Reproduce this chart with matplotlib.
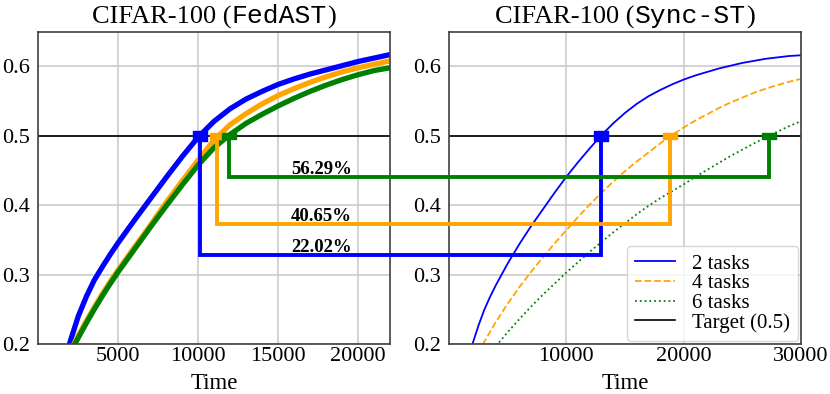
import matplotlib
matplotlib.use("Agg")
import matplotlib.pyplot as plt
from matplotlib.lines import Line2D

plt.rcParams['font.family'] = ['Liberation Serif', 'DejaVu Serif']

# ---------------- data ----------------
# FedAST (left panel)
fed_t2 = [1500, 2000, 2500, 3000, 3500, 4000, 4500, 5000, 6000, 7000, 8000, 9000, 10000,
          11000, 12000, 13000, 14000, 15000, 16000, 17000, 18000, 19000, 20000, 21000, 22000]
fed_v2 = [0.16, 0.204, 0.24, 0.268, 0.292, 0.311, 0.329, 0.346, 0.378, 0.409, 0.44, 0.47, 0.498,
          0.521, 0.539, 0.553, 0.564, 0.574, 0.582, 0.589, 0.595, 0.601, 0.607, 0.612, 0.617]

fed_t4 = [2000, 2500, 3000, 3500, 4000, 4500, 5000, 6000, 7000, 8000, 9000, 10000,
          11000, 12000, 13000, 14000, 15000, 16000, 17000, 18000, 19000, 20000, 21000, 22000]
fed_v4 = [0.19, 0.212, 0.233, 0.253, 0.272, 0.29, 0.307, 0.339, 0.371, 0.404, 0.435, 0.465,
          0.494, 0.516, 0.532, 0.546, 0.558, 0.568, 0.577, 0.585, 0.592, 0.598, 0.603, 0.608]

fed_t6 = [2000, 2500, 3000, 3500, 4000, 4500, 5000, 6000, 7000, 8000, 9000, 10000,
          11000, 12000, 13000, 14000, 15000, 16000, 17000, 18000, 19000, 20000, 21000, 22000]
fed_v6 = [0.188, 0.209, 0.23, 0.25, 0.269, 0.287, 0.304, 0.336, 0.368, 0.399, 0.429, 0.458,
          0.483, 0.502, 0.518, 0.531, 0.543, 0.554, 0.564, 0.573, 0.581, 0.588, 0.594, 0.598]

# Sync-ST (right panel)
sync_t2 = [1800, 2000, 2500, 3000, 3500, 4000, 5000, 6000, 7000, 8000, 9000, 10000, 11000,
           12000, 13000, 14000, 15000, 16000, 17000, 18000, 19000, 20000, 21000, 22000, 23000,
           24000, 25000, 26000, 27000, 28000, 29000, 30000]
sync_v2 = [0.19, 0.2, 0.226, 0.249, 0.268, 0.285, 0.316, 0.344, 0.37, 0.394, 0.418, 0.441, 0.462,
           0.482, 0.501, 0.518, 0.533, 0.546, 0.557, 0.566, 0.574, 0.581, 0.587, 0.592, 0.597,
           0.601, 0.605, 0.608, 0.611, 0.613, 0.615, 0.616]

sync_t4 = [2500, 3000, 4000, 5000, 6000, 7000, 8000, 9000, 10000, 11000, 12000, 13000,
           14000, 15000, 16000, 17000, 18000, 19000, 20000, 21000, 22000, 23000, 24000, 25000,
           26000, 27000, 28000, 29000, 30000]
sync_v4 = [0.187, 0.203, 0.232, 0.258, 0.282, 0.304, 0.325, 0.345, 0.364, 0.383, 0.401, 0.418,
           0.434, 0.449, 0.463, 0.476, 0.489, 0.501, 0.512, 0.522, 0.531, 0.54, 0.548, 0.555,
           0.562, 0.568, 0.573, 0.578, 0.582]

sync_t6 = [4000, 5000, 6000, 7000, 8000, 9000, 10000, 11000, 12000, 13000, 14000, 15000,
           16000, 17000, 18000, 19000, 20000, 21000, 22000, 23000, 24000, 25000, 26000, 27000,
           28000, 29000, 30000]
sync_v6 = [0.197, 0.217, 0.236, 0.254, 0.271, 0.287, 0.303, 0.318, 0.333, 0.347, 0.361, 0.374,
           0.387, 0.399, 0.41, 0.42, 0.43, 0.441, 0.451, 0.461, 0.471, 0.48, 0.489, 0.498,
           0.506, 0.514, 0.521]

series_labels = ['2 tasks', '4 tasks', '6 tasks']
target_label = 'Target (0.5)'
target = 0.5

fedast_reach = [10100, 11200, 11950]      # time FedAST reaches target
sync_reach = [12950, 18870, 27300]        # time Sync-ST reaches target
connector_levels = [0.328, 0.373, 0.44]
speedup_labels = ['22.02%', '40.65%', '56.29%']

left_xticks = [5000, 10000, 15000, 20000]
right_xticks = [10000, 20000, 30000]
yticks = [0.2, 0.3, 0.4, 0.5, 0.6]

# ---------------- styling ----------------
colors = ['blue', 'orange', 'green']
right_styles = ['-', '--', ':']
marker_shapes = [
    [(-1, -0.75), (1, -0.75), (1, 0.75), (-1, 0.75), (-1, -0.75)],
    [(-1, -0.5), (1, -0.5), (1, 0.5), (-1, 0.5), (-1, -0.5)],
    [(-1, -0.45), (1, -0.45), (1, 0.45), (-1, 0.45), (-1, -0.45)],
]

W, H = 830, 394
fig = plt.figure(figsize=(W / 100, H / 100), dpi=100)
axL = fig.add_axes([38.3 / W, 1 - 344 / H, (390 - 38.3) / W, (344 - 31.7) / H])
axR = fig.add_axes([449 / W, 1 - 344 / H, (801 - 449) / W, (344 - 31.7) / H])

for ax in (axL, axR):
    ax.set_ylim(0.2, 0.65)
    ax.set_yticks(yticks)
    ax.set_yticklabels([f"{v:.1f}" for v in yticks])
    ax.grid(True, color='#cccccc', linewidth=1.2)
    ax.set_axisbelow(True)
    ax.tick_params(axis='both', length=0, labelsize=16)
    ax.tick_params(axis='x', pad=2)
    ax.tick_params(axis='y', pad=6)
    for s in ax.spines.values():
        s.set_color('0.25')
        s.set_linewidth(1.2)
    ax.set_xlabel('Time', fontsize=16.5, labelpad=5)

axL.set_xlim(0, 22000)
axL.set_xticks(left_xticks)
axL.set_xticklabels([str(v) for v in left_xticks])
axR.set_xlim(0, 30000)
axR.set_xticks(right_xticks)
axR.set_xticklabels([str(v) for v in right_xticks])

fed_data = [(fed_t2, fed_v2), (fed_t4, fed_v4), (fed_t6, fed_v6)]
sync_data = [(sync_t2, sync_v2), (sync_t4, sync_v4), (sync_t6, sync_v6)]

for (t, v), c in zip(fed_data, colors):
    axL.plot(t, v, color=c, linewidth=3.8, solid_joinstyle='round')
axL.axhline(target, color='black', linewidth=1.2)

handles = []
for (t, v), c, ls, lab in zip(sync_data, colors, right_styles, series_labels):
    h, = axR.plot(t, v, color=c, linestyle=ls, linewidth=1.3, label=lab)
    handles.append(h)
ht = axR.axhline(target, color='black', linewidth=1.2, label=target_label)
handles.append(ht)

leg = axR.legend(handles=handles, loc='lower right', fontsize=15, labelspacing=0.0,
                 handlelength=1.9, handletextpad=0.8, borderpad=0.4, borderaxespad=0.15,
                 framealpha=0.8, fancybox=True)
leg.set_zorder(3)

# connectors between panels (figure coords)
def to_fig(ax, x, y):
    return fig.transFigure.inverted().transform(ax.transData.transform((x, y)))

for tf, ts, lev, c, ms in zip(fedast_reach, sync_reach, connector_levels, colors, marker_shapes):
    p = [to_fig(axL, tf, target), to_fig(axL, tf, lev), to_fig(axR, ts, lev), to_fig(axR, ts, target)]
    line = Line2D([q[0] for q in p], [q[1] for q in p], transform=fig.transFigure,
                  color=c, linewidth=2.8, solid_joinstyle='miter', solid_capstyle='butt', zorder=5)
    fig.add_artist(line)
    axL.plot([tf], [target], marker=ms, markersize=9.5, color=c, zorder=6, clip_on=False)
    axR.plot([ts], [target], marker=ms, markersize=9.5, color=c, zorder=6, clip_on=False)

for lev, lab in zip(connector_levels, speedup_labels):
    axL.text(17730, lev + 0.0045, lab, ha='center', va='baseline', fontsize=13.5,
             fontweight='bold', zorder=7)

# titles with mixed fonts
renderer = fig.canvas.get_renderer()
def mixed_title(ax, parts):
    pos = ax.get_position()
    y = pos.y1 + 8.3 / H
    texts = []
    for s, fam in parts:
        t = fig.text(0, y, s, fontsize=19, family=fam, va='baseline', ha='left')
        texts.append(t)
    widths = [t.get_window_extent(renderer).width for t in texts]
    x = (pos.x0 + pos.x1) / 2 * W - sum(widths) / 2
    for t, w in zip(texts, widths):
        t.set_x(x / W)
        x += w

mixed_title(axL, [('CIFAR-100 (', 'Liberation Serif'), ('FedAST', 'Liberation Mono'), (')', 'Liberation Serif')])
mixed_title(axR, [('CIFAR-100 (', 'Liberation Serif'), ('Sync-ST', 'Liberation Mono'), (')', 'Liberation Serif')])

fig.savefig('out.png', dpi=100)
